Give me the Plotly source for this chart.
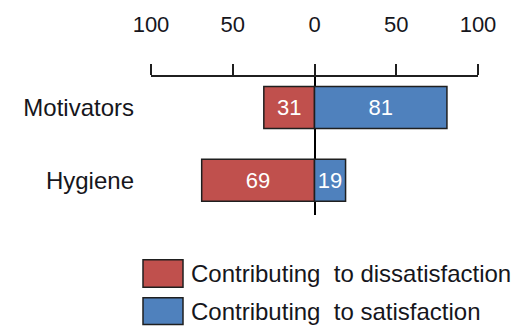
import plotly.graph_objects as go

# Herzberg two-factor survey: share of incidents (%) by factor group
categories = ["Motivators", "Hygiene"]
dissatisfaction = [31, 69]
satisfaction = [81, 19]
series_names = ["Contributing  to dissatisfaction", "Contributing  to satisfaction"]
tick_values = [-100, -50, 0, 50, 100]
tick_labels = ["100", "50", "0", "50", "100"]

RED = "#C0504D"
BLUE = "#4F81BD"
EDGE = "#1f1f1f"
TEXT = "#16161c"
FONT = "Liberation Sans"

W, H = 519, 331
ML, MR, MT, MB = 151, 41, 70, 116
PW, PH = W - ML - MR, H - MT - MB

fig = go.Figure()
fig.add_trace(go.Bar(
    y=categories, x=[-v for v in dissatisfaction], orientation="h",
    name=series_names[0], marker=dict(color=RED, line=dict(color=EDGE, width=1.5)),
    text=[str(v) for v in dissatisfaction], textposition="inside",
    insidetextanchor="middle", constraintext="none",
    textfont=dict(color="white", size=22, family=FONT), width=0.575,
))
fig.add_trace(go.Bar(
    y=categories, x=satisfaction, orientation="h",
    name=series_names[1], marker=dict(color=BLUE, line=dict(color=EDGE, width=1.5)),
    text=[str(v) for v in satisfaction], textposition="inside",
    insidetextanchor="middle", constraintext="none",
    textfont=dict(color="white", size=22, family=FONT), width=0.575,
))


def px_x(px):
    return (px - ML) / PW


def px_y(py):
    return (H - MB - py) / PH


# legend drawn as large boxed swatches with labels beside them
swatches = [(RED, 262, 291), (BLUE, 302, 330)]
for (color, top, bottom), name in zip(swatches, series_names):
    fig.add_shape(type="rect", xref="paper", yref="paper",
                  x0=px_x(143), x1=px_x(183), y0=px_y(bottom), y1=px_y(top),
                  fillcolor=color, line=dict(color=EDGE, width=1.5))
    fig.add_annotation(xref="paper", yref="paper", x=px_x(189), y=px_y((top + bottom) / 2),
                       text=name, showarrow=False, xanchor="left", yanchor="middle",
                       font=dict(size=24, color=TEXT, family=FONT))

fig.update_layout(
    width=W, height=H, barmode="relative", bargap=0.4,
    margin=dict(l=ML, r=MR, t=MT, b=MB),
    paper_bgcolor="white", plot_bgcolor="white", showlegend=False,
    font=dict(family=FONT, color=TEXT),
    xaxis=dict(
        side="top", range=[-100, 100], tickvals=tick_values, ticktext=tick_labels,
        ticks="outside", ticklen=11, tickwidth=1.5, tickcolor=EDGE,
        showline=True, linecolor=EDGE, linewidth=1.5,
        showgrid=False, zeroline=True, zerolinecolor="black", zerolinewidth=1.5,
        tickfont=dict(size=22, color=TEXT), ticklabelstandoff=23, fixedrange=True,
        layer="above traces",
    ),
    yaxis=dict(
        categoryorder="array", categoryarray=categories[::-1],
        range=[-0.477, 1.418], showgrid=False, zeroline=False, showline=False,
        ticks="", tickfont=dict(size=24, color=TEXT), ticklabelstandoff=16,
        fixedrange=True,
    ),
)

fig.write_html("out.html")
